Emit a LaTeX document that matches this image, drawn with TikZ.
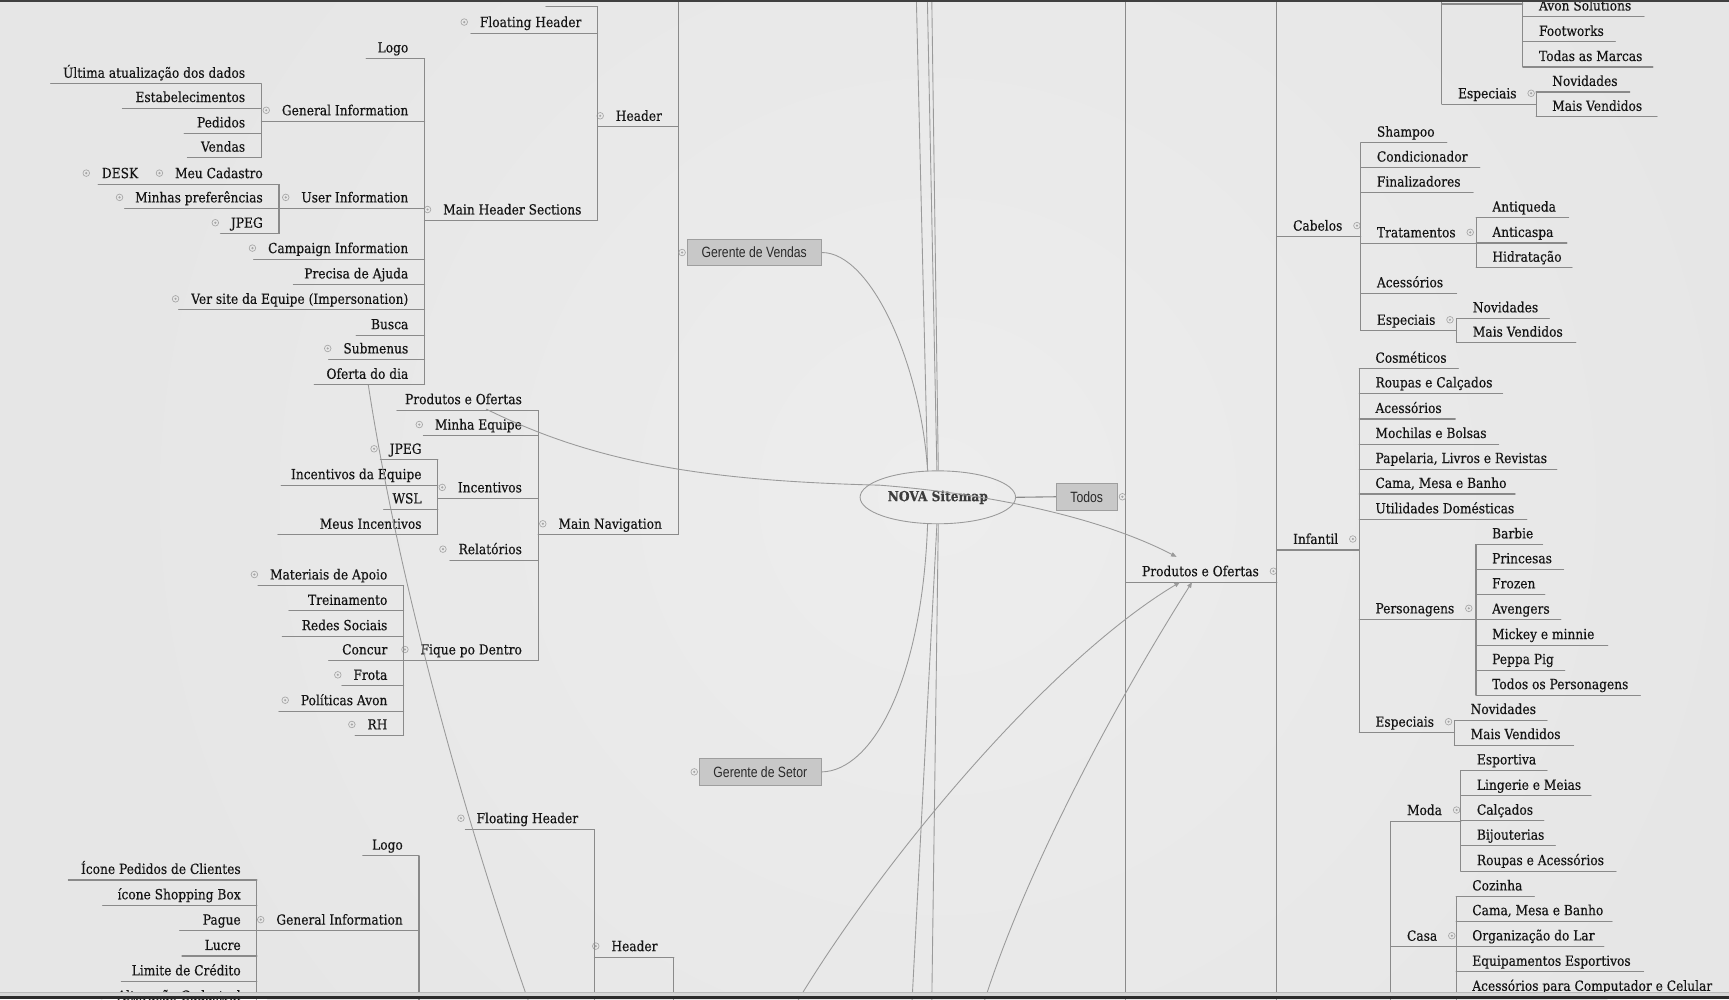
\documentclass[tikz,border=0pt]{standalone}
\usepackage{fontspec}
\setmainfont{DejaVu Serif}[FakeStretch=0.88,FakeBold=0.35]
\newfontfamily\boxfont{Liberation Sans}[FakeStretch=0.82]
\usetikzlibrary{arrows.meta,shapes.geometric}
\definecolor{bg}{HTML}{E6E6E6}
\definecolor{bgin}{HTML}{EDEDED}
\definecolor{txt}{HTML}{141414}
\definecolor{ln}{HTML}{8A8A8A}
\definecolor{rl}{HTML}{9A9A9A}
\definecolor{mkc}{HTML}{A6A6A6}
\definecolor{bxf}{HTML}{C8C8C8}
\definecolor{bxd}{HTML}{9E9E9E}
\definecolor{bxt}{HTML}{2A2A2A}
\definecolor{elc}{HTML}{9A9A9A}
\definecolor{roott}{HTML}{3C3C3C}
\definecolor{bandl}{HTML}{D6D6D6}
\definecolor{bandd}{HTML}{2B2B2B}
\tikzset{
 tx/.style={inner sep=0pt, text=txt, font=\fontsize{12.6}{15}\selectfont},
 uline/.style={draw=ln, line width=1pt, line cap=round},
 spine/.style={draw=ln, line width=1pt},
 mk/.style={circle, draw=mkc, line width=0.6pt, minimum size=6pt, inner sep=0pt,
   path picture={\fill[mkc] (path picture bounding box.center) circle (1.1pt);}},
 rel/.style={draw=rl, line width=0.8pt},
 arr/.style={-{Triangle[length=5pt,width=4pt]}},
 gbox/.style={draw=bxd, fill=bxf, line width=0.8pt, inner sep=0pt, text=bxt,
   font=\boxfont\fontsize{13.5}{15}\selectfont},
}
\newcommand\rtopic[5]{%
  \draw[uline] (#2,#3) -- (#4,#3);
  \path (#2,#3) ++(14.5,-5.5) node[tx,anchor=base west] (#1) {#5};}
\newcommand\ltopic[5]{%
  \draw[uline] (#4,#3) -- (#2,#3);
  \path (#2,#3) ++(-14.5,-5.5) node[tx,anchor=base east] (#1) {#5};}
\newcommand\rmark[1]{\node[mk] at ([shift={(13,-4.5)}]#1.base east) {};}
\newcommand\lmark[1]{\node[mk] at ([shift={(-14,-4.5)}]#1.base west) {};}
\begin{document}
\begin{tikzpicture}[x=1pt,y=-1pt]
\useasboundingbox (0,0) rectangle (1568,906);
\fill[bg] (0,0) rectangle (1568,906);
\begin{scope}
\clip (0,0) rectangle (1568,906);
\shade[inner color=bgin, outer color=bg] (850,450) circle (760);
\end{scope}

% ---------- top-left tree (Gerente de Vendas) ----------
\draw[spine] (615,-2) -- (615,485);
\ltopic{hdrA}{615}{115}{542}{Header} \lmark{hdrA}
\ltopic{mnav}{615}{485}{488}{Main Navigation} \lmark{mnav}
\draw[spine] (542,6) -- (542,200);
\draw[uline] (495,6) -- (542,6);
\ltopic{fhA}{542}{30}{427}{Floating Header} \lmark{fhA}
\ltopic{mhs}{542}{200}{385}{Main Header Sections} \lmark{mhs}
\draw[spine] (385,53) -- (385,349);
\ltopic{logoA}{385}{53}{332}{Logo}
\ltopic{giA}{385}{110}{237}{General Information} \lmark{giA}
\ltopic{uiA}{385}{189}{253}{User Information} \lmark{uiA}
\ltopic{ciA}{385}{235}{230}{Campaign Information} \lmark{ciA}
\ltopic{pdaA}{385}{258}{266}{Precisa de Ajuda}
\ltopic{vseA}{385}{281}{162}{Ver site da Equipe (Impersonation)} \lmark{vseA}
\ltopic{buscaA}{385}{304}{323}{Busca}
\ltopic{subA}{385}{326}{298}{Submenus} \lmark{subA}
\ltopic{oddA}{385}{349}{285}{Oferta do dia}
\draw[spine] (237,76) -- (237,143);
\ltopic{uadA}{237}{76}{46}{Última atualização dos dados}
\ltopic{estA}{237}{98}{111}{Estabelecimentos}
\ltopic{pedA}{237}{121}{167}{Pedidos}
\ltopic{venA}{237}{143}{170}{Vendas}
\draw[spine] (253,167) -- (253,212);
\ltopic{mcA}{253}{167}{140}{Meu Cadastro} \lmark{mcA}
\ltopic{deskA}{140}{167}{89}{DESK} \lmark{deskA}
\ltopic{mpA}{253}{189}{113}{Minhas preferências} \lmark{mpA}
\ltopic{jpgA}{253}{212}{200}{JPEG} \lmark{jpgA}

\draw[spine] (488,372) -- (488,599);
\ltopic{npo}{488}{372}{360}{Produtos e Ofertas}
\ltopic{meq}{488}{395}{384}{Minha Equipe} \lmark{meq}
\ltopic{inc}{488}{452}{397}{Incentivos} \lmark{inc}
\ltopic{rel}{488}{508}{408}{Relatórios} \lmark{rel}
\ltopic{fpd}{488}{599}{366}{Fique po Dentro} \lmark{fpd}
\draw[spine] (397,417) -- (397,485);
\ltopic{jpgB}{397}{417}{345}{JPEG} \lmark{jpgB}
\ltopic{ide}{397}{440}{255}{Incentivos da Equipe}
\ltopic{wsl}{397}{462}{348}{WSL}
\ltopic{mei}{397}{485}{252}{Meus Incentivos}
\draw[spine] (366,531) -- (366,667);
\ltopic{mda}{366}{531}{234}{Materiais de Apoio} \lmark{mda}
\ltopic{tre}{366}{554}{262}{Treinamento}
\ltopic{rso}{366}{577}{256}{Redes Sociais}
\ltopic{con}{366}{599}{298}{Concur}
\ltopic{fro}{366}{622}{310}{Frota} \lmark{fro}
\ltopic{pav}{366}{645}{253}{Políticas Avon} \lmark{pav}
\ltopic{rh}{366}{667}{322}{RH} \lmark{rh}

% ---------- bottom-left tree (Gerente de Setor) ----------
\draw[spine] (611,868) -- (611,910);
\ltopic{hdrB}{611}{868}{539}{Header} \lmark{hdrB}
\draw[spine] (539,752) -- (539,910);
\ltopic{fhB}{539}{752}{422}{Floating Header} \lmark{fhB}
\draw[spine] (380,776) -- (380,910);
\ltopic{logoB}{380}{776}{329}{Logo}
\ltopic{giB}{380}{844}{233}{General Information} \lmark{giB}
\draw[spine] (233,798) -- (233,910);
\ltopic{ipc}{233}{798}{62}{Ícone Pedidos de Clientes}
\ltopic{isb}{233}{821}{93}{ícone Shopping Box}
\ltopic{pag}{233}{844}{163}{Pague}
\ltopic{luc}{233}{867}{165}{Lucre}
\ltopic{ldc}{233}{890}{110}{Limite de Crédito}
\ltopic{alt}{233}{913}{95}{Alteração Cadastral} \lmark{alt}

% ---------- right side ----------
\draw[spine] (1021,-2) -- (1021,910);
\rtopic{rpo}{1021}{528}{1158}{Produtos e Ofertas} \rmark{rpo}
\draw[spine] (1158,-2) -- (1158,910);
\rtopic{cab}{1158}{214.6}{1234}{Cabelos} \rmark{cab}
\rtopic{inf}{1158}{498.8}{1232.7}{Infantil} \rmark{inf}

\draw[spine] (1307.6,-2) -- (1307.6,94.6);
\draw[uline] (1307.6,3.6) -- (1381,3.6);
\draw[spine] (1381,-2) -- (1381,60.8);
\rtopic{avs}{1381}{15}{1491}{Avon Solutions}
\rtopic{fwk}{1381}{38}{1465}{Footworks}
\rtopic{tam}{1381}{60.8}{1499}{Todas as Marcas}
\rtopic{espA}{1307.6}{94.6}{1393}{Especiais} \rmark{espA}
\draw[spine] (1393,83.4) -- (1393,106);
\rtopic{novA}{1393}{83.4}{1478}{Novidades}
\rtopic{mvA}{1393}{106}{1502.7}{Mais Vendidos}

\draw[spine] (1234,129.4) -- (1234,300);
\rtopic{sha}{1234}{129.4}{1312}{Shampoo}
\rtopic{cond}{1234}{152}{1342}{Condicionador}
\rtopic{fin}{1234}{174.7}{1336}{Finalizadores}
\rtopic{trat}{1234}{220.7}{1338.7}{Tratamentos} \rmark{trat}
\rtopic{aceA}{1234}{266}{1321}{Acessórios}
\rtopic{espB}{1234}{300}{1321}{Especiais} \rmark{espB}
\draw[spine] (1338.7,197.4) -- (1338.7,242.8);
\rtopic{antq}{1338.7}{197.4}{1422.5}{Antiqueda}
\rtopic{antc}{1338.7}{220.4}{1421}{Anticaspa}
\rtopic{hid}{1338.7}{242.8}{1425.6}{Hidratação}
\draw[spine] (1321,288.7) -- (1321,310.8);
\rtopic{novB}{1321}{288.7}{1405}{Novidades}
\rtopic{mvB}{1321}{310.8}{1429}{Mais Vendidos}

\draw[spine] (1232.7,334.4) -- (1232.7,664.5);
\rtopic{cos}{1232.7}{334.4}{1322.5}{Cosméticos}
\rtopic{rec}{1232.7}{356.8}{1362.6}{Roupas e Calçados}
\rtopic{aceB}{1232.7}{380}{1319.7}{Acessórios}
\rtopic{meb}{1232.7}{402.7}{1359}{Mochilas e Bolsas}
\rtopic{plr}{1232.7}{425.4}{1411.9}{Papelaria, Livros e Revistas}
\rtopic{cmbA}{1232.7}{448}{1374}{Cama, Mesa e Banho}
\rtopic{udo}{1232.7}{471}{1384.7}{Utilidades Domésticas}
\rtopic{per}{1232.7}{561.7}{1338.5}{Personagens} \rmark{per}
\rtopic{espC}{1232.7}{664.5}{1319}{Especiais} \rmark{espC}
\draw[spine] (1338.5,493.7) -- (1338.5,630.4);
\rtopic{bar}{1338.5}{493.7}{1399}{Barbie}
\rtopic{pri}{1338.5}{516.3}{1418}{Princesas}
\rtopic{fro2}{1338.5}{539}{1401}{Frozen}
\rtopic{ave}{1338.5}{562}{1415.5}{Avengers}
\rtopic{mic}{1338.5}{585}{1458}{Mickey e minnie}
\rtopic{pep}{1338.5}{607.7}{1419}{Peppa Pig}
\rtopic{tdp}{1338.5}{630.4}{1487.5}{Todos os Personagens}
\draw[spine] (1319,653) -- (1319,675.7);
\rtopic{novC}{1319}{653}{1403}{Novidades}
\rtopic{mvC}{1319}{675.7}{1427}{Mais Vendidos}

\draw[spine] (1261.3,744.6) -- (1261.3,910);
\rtopic{moda}{1261.3}{744.6}{1324.7}{Moda} \rmark{moda}
\rtopic{casa}{1261.3}{858.6}{1320.5}{Casa} \rmark{casa}
\draw[spine] (1324.7,698.7) -- (1324.7,790);
\rtopic{esp}{1324.7}{698.7}{1403}{Esportiva}
\rtopic{lem}{1324.7}{721.7}{1443}{Lingerie e Meias}
\rtopic{cal}{1324.7}{744.3}{1400}{Calçados}
\rtopic{bij}{1324.7}{767}{1410.4}{Bijouterias}
\rtopic{rea}{1324.7}{790}{1465.5}{Roupas e Acessórios}
\draw[spine] (1320.5,813) -- (1320.5,910);
\rtopic{coz}{1320.5}{813}{1391.5}{Cozinha}
\rtopic{cmbB}{1320.5}{835.4}{1462}{Cama, Mesa e Banho}
\rtopic{org}{1320.5}{858.3}{1454.4}{Organização do Lar}
\rtopic{eqe}{1320.5}{881.3}{1490.5}{Equipamentos Esportivos}
\rtopic{apc}{1320.5}{904}{1720}{Acessórios para Computador e Celular}

% ---------- central nodes ----------
\node[ellipse, draw=elc, line width=0.8pt, minimum width=141pt, minimum height=48pt,
  inner sep=0pt, text=roott, font=\bfseries\fontsize{12.6}{15}\selectfont] (root) at (850.5,451) {NOVA Sitemap};
\node[gbox, minimum width=122pt, minimum height=24pt] (gv) at (684,229) {Gerente de Vendas};
\node[mk] at ([xshift=-4pt]gv.west) {};
\node[gbox, minimum width=111pt, minimum height=24pt] (gs) at (689.5,700) {Gerente de Setor};
\node[mk] at ([xshift=-4pt]gs.west) {};
\node[gbox, minimum width=55pt, minimum height=25pt] (todos) at (985.5,450.5) {Todos};
\node[mk] at ([xshift=4.5pt]todos.east) {};
\draw[spine] (root.east) -- (todos.west);

% ---------- connectors from the root ----------
\coordinate (u1) at (831,-2);
\coordinate (u2) at (841,-2);
\coordinate (u3) at (845,-2);
\coordinate (d1) at (827,910);
\coordinate (d2) at (845,910);
\draw[rel] (gv.east) .. controls (790,229) and (835,330) .. (root.111);
\draw[rel] (root.111) -- (u1);
\draw[rel] (root.92) -- (u2);
\draw[rel] (root.89) -- (u3);
\draw[rel] (root.249) .. controls (836,620) and (790,699) .. (gs.east);
\draw[rel] (root.268) -- (d1);
\draw[rel] (root.271) -- (d2);

% ---------- relationship lines ----------
\coordinate (rs) at (441,371);
\coordinate (ta) at (1067,505);
\draw[rel,arr] (rs) .. controls (540,420) and (640,436) .. (798,440)
  .. controls (900,448) and (1000,470) .. (ta);
\coordinate (b1) at (722,910);
\coordinate (tb1) at (1070,528);
\draw[rel,arr] (b1) .. controls (800,780) and (950,600) .. (tb1);
\coordinate (b2) at (892,910);
\coordinate (tb2) at (1081,528);
\draw[rel,arr] (b2) .. controls (930,790) and (1010,640) .. (tb2);
\coordinate (od) at (334,349);
\coordinate (b3) at (480,910);
\draw[rel] (od) .. controls (360,520) and (420,740) .. (b3);

% ---------- window edges ----------
\fill[bandl] (0,899.5) rectangle (1568,903);
\draw[ln!60, line width=0.5pt] (0,899.5) -- (1568,899.5);
\fill[bandd] (0,903) rectangle (1568,906);
\fill[bandd!90] (0,0) rectangle (1568,1.4);
\end{tikzpicture}
\end{document}
